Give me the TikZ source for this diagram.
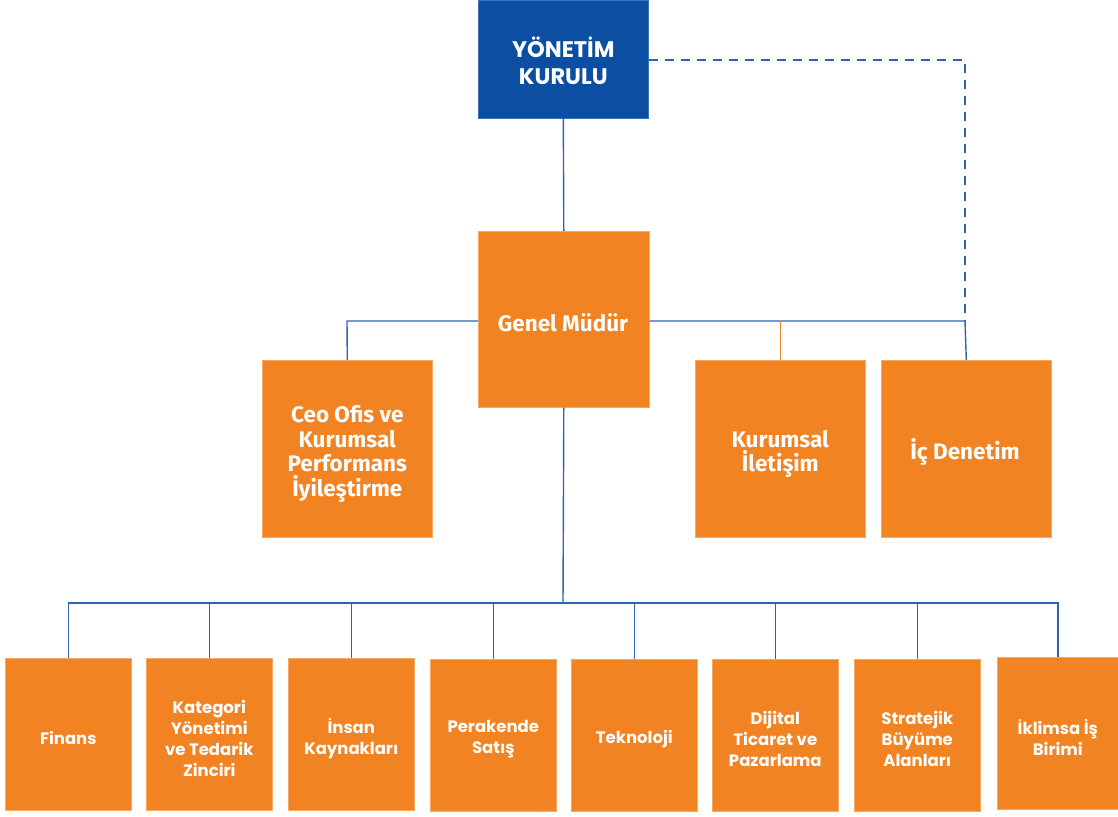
\documentclass[tikz,border=0pt]{standalone}
\usepackage{fontspec}
\setmainfont{Poppins}
\newfontfamily\midfont{Fira Sans}
\definecolor{boardblue}{HTML}{0B4EA2}
\definecolor{unitorange}{HTML}{F28322}
\definecolor{lineblue}{HTML}{2F62B0}
\begin{document}
\begin{tikzpicture}[x=1pt,y=-1pt,
  box/.style={fill=unitorange,draw=unitorange!70!white,line width=0.6pt,text=white,align=center,inner sep=0pt,anchor=north west},
  topbox/.style={box,fill=boardblue,draw=boardblue!80!white},
  toptext/.style={text=white,align=center,inner sep=0pt,yshift=-2pt,font=\bfseries\fontsize{22.5}{27}\selectfont},
  midbox/.style={box},
  midtext/.style={font=\midfont\bfseries\fontsize{22.5}{24.5}\selectfont,text=white,align=center,inner sep=0pt},
  lowbox/.style={box,minimum width=126pt,minimum height=152pt},
  lowtext/.style={text=white,align=center,inner sep=0pt,yshift=-4pt,font=\bfseries\fontsize{16.5}{21}\selectfont},
  conn/.style={draw=lineblue,line width=1.4pt},
  dashconn/.style={conn,dash pattern=on 9pt off 7pt}]
\useasboundingbox (0,0) rectangle (1118,816);
% top
\node[topbox,minimum width=170pt,minimum height=118pt,label={[name=ykt,toptext]center:YÖNETİM\\KURULU}] (yk) at (478,0) {};
\node[midbox,minimum width=171pt,minimum height=176pt] (gm) at (478,231) {};
\node[midtext] (gmt) at (563,323) {Genel Müdür};
\node[midbox,minimum width=170pt,minimum height=177pt,label={[name=ceot,midtext,yshift=-5pt]center:Ceo Ofis ve\\Kurumsal\\Performans\\İyileştirme}] (ceo) at (262,360) {};
\node[midbox,minimum width=170pt,minimum height=177pt,label={[name=kit,midtext,yshift=-5pt]center:Kurumsal\\İletişim}] (ki) at (695,360) {};
\node[midbox,minimum width=170pt,minimum height=177pt] (id) at (881,360) {};
\node[midtext] (idt) at (965,452) {İç Denetim};
% bottom
\node[lowbox,label={[name=b1t,lowtext]center:Finans}] (b1) at (5,658) {};
\node[lowbox,label={[name=b2t,lowtext]center:Kategori\\Yönetimi\\ve Tedarik\\Zinciri}] (b2) at (146,658) {};
\node[lowbox,label={[name=b3t,lowtext]center:İnsan\\Kaynakları}] (b3) at (288,658) {};
\node[lowbox,label={[name=b4t,lowtext]center:Perakende\\Satış}] (b4) at (430,659) {};
\node[lowbox,label={[name=b5t,lowtext]center:Teknoloji}] (b5) at (571,659) {};
\node[lowbox,label={[name=b6t,lowtext]center:Dijital\\Ticaret ve\\Pazarlama}] (b6) at (712,659) {};
\node[lowbox,label={[name=b7t,lowtext]center:Stratejik\\Büyüme\\Alanları}] (b7) at (854,659) {};
\node[lowbox,minimum width=121pt,label={[name=b8t,lowtext]center:İklimsa İş\\Birimi}] (b8) at (997,657) {};
% coordinates
\coordinate (mbus) at (563,603);
\coordinate (hl) at (347,321);
\coordinate (hr) at (965,321);
\coordinate (dtop) at (965,60);
% connectors
\draw[conn] (yk.south) -- (gm.north);
\draw[conn] (gm.west |- hl) -- (hl) -- (ceo.north);
\draw[conn] (gm.east |- hr) -- (hr) -- (id.north);
\draw[draw=unitorange,line width=1.3pt] (ki.north) -- (ki.north |- hr);
\draw[dashconn] (yk.east |- dtop) -- (dtop) -- (hr);
\draw[conn] (gm.south) -- (mbus);
\draw[conn] (b1.north) -- (b1.north |- mbus) -- (b8.north |- mbus) -- (b8.north);
\foreach \b in {b2,b3,b4,b5,b6,b7}{
  \draw[conn] (\b.north) -- (\b.north |- mbus);
}
\end{tikzpicture}
\end{document}
